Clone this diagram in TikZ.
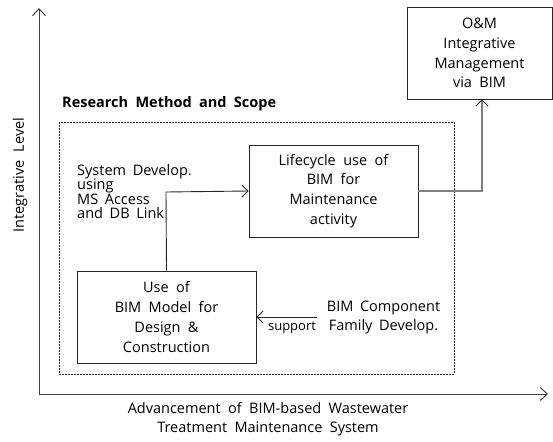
\documentclass[tikz,border=0pt]{standalone}
\usepackage{fontspec}
\setmainfont{Open Sans}
\usetikzlibrary{arrows.meta}
\begin{document}
\begin{tikzpicture}[x=1pt,y=-1pt,
  boxnode/.style={draw=black!85,line width=0.9pt,align=center,inner sep=0pt,
    font=\fontsize{14.5}{19.8}\selectfont},
  plaintext/.style={align=center,inner sep=0pt,font=\fontsize{14.5}{19}\selectfont},
  axisline/.style={draw=black!75,line width=1pt,-{Straight Barb[length=7pt,width=13pt]}},
  conn/.style={draw=black!85,line width=0.9pt,-{Straight Barb[length=6pt,width=12pt]}},
  grayconn/.style={draw=black!50,line width=1.8pt,-{Straight Barb[length=6pt,width=12pt,line width=0.9pt,color=black!85]}}
]
\useasboundingbox (0,0) rectangle (553,441);
% axes
\coordinate (origin) at (39,394);
\coordinate (ytip) at (39,8);
\coordinate (xtip) at (548,394);
\draw[axisline] (origin) -- (ytip);
\draw[axisline] (origin) -- (xtip);
\node[plaintext,rotate=90] (ylabel) at (20,175) {Integrative\hspace{0.3em} Level};
\node[plaintext,font=\fontsize{14.5}{19}\selectfont] (xlabel) at (268,419.5) {Advancement\hspace{0.25em} of\hspace{0.25em} BIM-based\hspace{0.25em} Wastewater\\Treatment\hspace{0.25em} Maintenance\hspace{0.25em} System};
% scope
\draw[draw=black!85,line width=0.8pt,dash pattern=on 2pt off 1pt] (59,122) rectangle (454,374);
\node[plaintext,anchor=west,font=\bfseries\fontsize{14.5}{15}\selectfont] (scope) at (62,104) {Research\hspace{0.25em} Method\hspace{0.25em} and\hspace{0.25em} Scope};
% boxes
\node[boxnode,minimum width=179pt,minimum height=92pt] (use) at (166.5,317) {Use\hspace{0.25em} of\\BIM\hspace{0.25em} Model\hspace{0.25em} for\\Design\hspace{0.25em} \&\\Construction};
\node[boxnode,minimum width=169pt,minimum height=92pt] (life) at (333.5,191) {Lifecycle\hspace{0.25em} use\hspace{0.25em} of\\BIM\hspace{0.25em} for\\Maintenance\\activity};
\node[boxnode,minimum width=145pt,minimum height=92pt] (om) at (479.5,53) {O\&M\\Integrative\\Management\\via\hspace{0.25em} BIM};
% labels
\node[plaintext,anchor=north west,align=left,font=\fontsize{14.5}{14.5}\selectfont] (sysdev) at (77,164) {System\hspace{0.2em} Develop.\\using\\MS\hspace{0.2em} Access\\and\hspace{0.2em} DB\hspace{0.2em} Link};
\node[plaintext,font=\fontsize{14.5}{19}\selectfont] (bimcomp) at (383.5,317) {BIM\hspace{0.2em} Component\\Family\hspace{0.2em} Develop.};
\node[plaintext,font=\fontsize{13}{14}\selectfont] (support) at (292,328) {support};
\coordinate (supstart) at (317,317);
% connectors
\draw[conn] (use.north) -- (166,192) -- (life.west);
\draw[grayconn] (life.east) -- (482,191) -- (om.south -| 482,0);
\draw[conn] (supstart) -- (use.east);
\end{tikzpicture}
\end{document}
